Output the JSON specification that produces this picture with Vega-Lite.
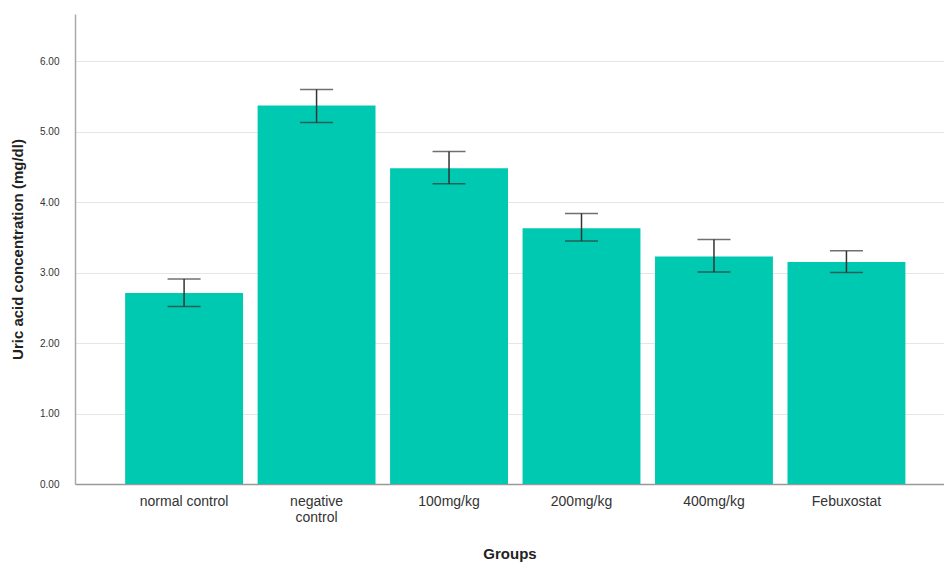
{
  "$schema": "https://vega.github.io/schema/vega-lite/v6.json",
  "autosize": {"type": "none"},
  "padding": {"left": 75, "top": 14, "right": 0, "bottom": 81},
  "width": 869,
  "height": 470,
  "background": "white",
  "config": {
    "view": {"stroke": null},
    "font": "Liberation Sans"
  },
  "data": {
    "values": [
      {"group": "normal control", "mean": 2.71, "lo": 2.52, "hi": 2.91},
      {"group": "negative control", "mean": 5.37, "lo": 5.13, "hi": 5.60},
      {"group": "100mg/kg", "mean": 4.48, "lo": 4.26, "hi": 4.72},
      {"group": "200mg/kg", "mean": 3.63, "lo": 3.45, "hi": 3.84},
      {"group": "400mg/kg", "mean": 3.23, "lo": 3.01, "hi": 3.47},
      {"group": "Febuxostat", "mean": 3.15, "lo": 3.00, "hi": 3.31}
    ]
  },
  "encoding": {
    "x": {
      "field": "group",
      "type": "nominal",
      "sort": null,
      "scale": {"paddingInner": 0.11, "paddingOuter": 0.335, "align": 0.565},
      "axis": {
        "title": "Groups",
        "titleFontSize": 15,
        "titleFontWeight": "bold",
        "titleColor": "#222",
        "titlePadding": 22,
        "labelAngle": 0,
        "labelFontSize": 14,
        "labelColor": "#333",
        "labelPadding": 10,
        "ticks": false,
        "domainColor": "#999",
        "domainWidth": 1.5,
        "labelExpr": "datum.label == 'negative control' ? ['negative', 'control'] : datum.label"
      }
    }
  },
  "layer": [
    {
      "mark": {"type": "bar", "color": "#00C9B1"},
      "encoding": {
        "y": {
          "field": "mean",
          "type": "quantitative",
          "scale": {"domain": [0, 6.67], "nice": false},
          "axis": {
            "title": "Uric acid concentration (mg/dl)",
            "titleFontSize": 15,
            "titleFontWeight": "bold",
            "titleColor": "#222",
            "titlePadding": 14,
            "values": [0, 1, 2, 3, 4, 5, 6],
            "format": ".2f",
            "labelFontSize": 10,
            "labelColor": "#333",
            "labelPadding": 16,
            "ticks": false,
            "domainColor": "#aaa",
            "domainWidth": 1.5,
            "grid": true,
            "gridColor": "#e6e6e6"
          }
        }
      }
    },
    {
      "mark": {"type": "rule", "color": "#333", "strokeWidth": 1.5},
      "encoding": {
        "y": {"field": "lo", "type": "quantitative"},
        "y2": {"field": "hi"}
      }
    },
    {
      "mark": {"type": "tick", "color": "#333", "thickness": 1.5, "size": 33},
      "encoding": {"y": {"field": "lo", "type": "quantitative"}}
    },
    {
      "mark": {"type": "tick", "color": "#333", "thickness": 1.5, "size": 33},
      "encoding": {"y": {"field": "hi", "type": "quantitative"}}
    }
  ]
}
